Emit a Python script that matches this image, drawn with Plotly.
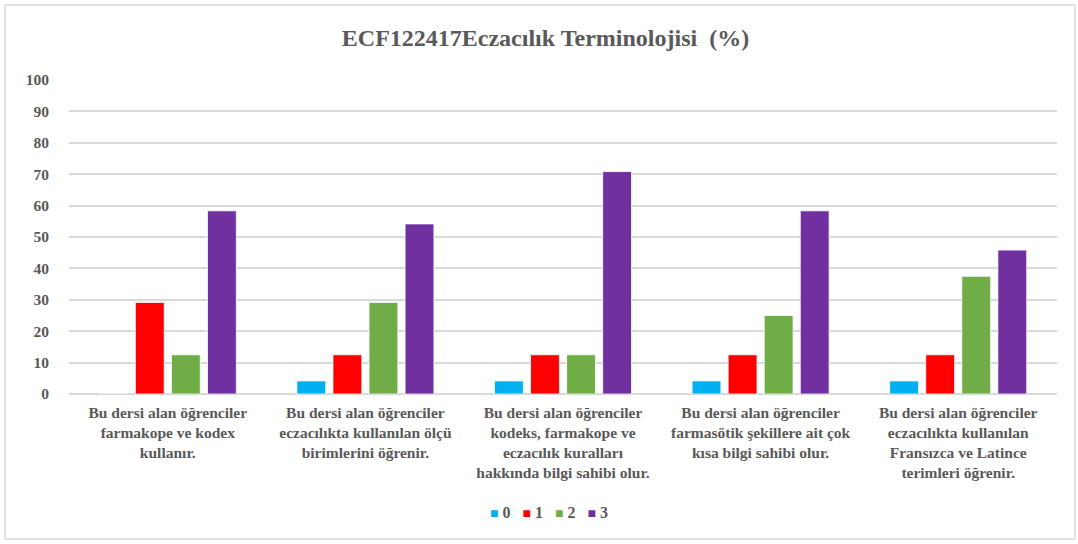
import plotly.graph_objects as go

categories = [
    "Bu dersi alan öğrenciler<br>farmakope ve kodex<br>kullanır.",
    "Bu dersi alan öğrenciler<br>eczacılıkta kullanılan ölçü<br>birimlerini öğrenir.",
    "Bu dersi alan öğrenciler<br>kodeks, farmakope ve<br>eczacılık kuralları<br>hakkında bilgi sahibi olur.",
    "Bu dersi alan öğrenciler<br>farmasötik şekillere ait çok<br>kısa bilgi sahibi olur.",
    "Bu dersi alan öğrenciler<br>eczacılıkta kullanılan<br>Fransızca ve Latince<br>terimleri öğrenir.",
]
series_names = ["0", "1", "2", "3"]
values_0 = [0, 4.17, 4.17, 4.17, 4.17]
values_1 = [29.17, 12.5, 12.5, 12.5, 12.5]
values_2 = [12.5, 29.17, 12.5, 25.0, 37.5]
values_3 = [58.33, 54.17, 70.83, 58.33, 45.83]
colors = ["#00B0F0", "#FF0000", "#70AD47", "#7030A0"]

FONT = "'Liberation Serif', 'Times New Roman', Times, serif"
GRAY = "#595959"

fig = go.Figure()
for name, vals, col in zip(series_names, [values_0, values_1, values_2, values_3], colors):
    fig.add_trace(go.Bar(
        x=categories, y=vals, name=name, showlegend=False,
        marker=dict(color=col, line=dict(color="white", width=0.8)),
    ))

# compact legend (Excel style) built from the series names and colours
legend_text = "&nbsp;&nbsp;&nbsp;".join(
    f'<span style="color:{c};font-size:14px">■</span>&nbsp;{n}'
    for n, c in zip(series_names, colors)
)

fig.update_layout(
    width=1078, height=544,
    margin=dict(l=69, r=21, t=80, b=150),
    paper_bgcolor="white", plot_bgcolor="white",
    barmode="group", bargap=0.27, bargroupgap=0.2,
    title=dict(
        text="<b>ECF122417Eczacılık Terminolojisi  (%)</b>",
        x=0.506, xanchor="center", y=0.93, yanchor="middle",
        font=dict(family=FONT, size=24, color=GRAY),
    ),
    font=dict(family=FONT, color=GRAY),
    xaxis=dict(
        showgrid=False, showline=False, automargin=False,
        ticks="outside", ticklen=4, tickcolor="rgba(0,0,0,0)",
        tickfont=dict(family=FONT, size=15.5, color=GRAY, weight="bold"),
        tickangle=0,
    ),
    yaxis=dict(
        range=[0, 100], dtick=10, showgrid=True, gridcolor="#D9D9D9", gridwidth=1.5,
        zeroline=True, zerolinecolor="#D9D9D9", zerolinewidth=1.5, automargin=False,
        tickfont=dict(family=FONT, size=15.5, color=GRAY, weight="bold"),
        ticks="", ticklabelstandoff=19,
    ),
    annotations=[dict(
        text=f"<b>{legend_text}</b>", xref="paper", yref="paper",
        x=0.486, y=-0.376, xanchor="center", yanchor="middle", showarrow=False,
        font=dict(family=FONT, size=16, color=GRAY),
    )],
    shapes=[dict(
        type="rect", xref="paper", yref="paper",
        x0=(5 - 69) / 988, x1=(1075 - 69) / 988,
        y0=(394 - 539) / 314, y1=(394 - 5) / 314,
        line=dict(color="#D9D9D9", width=1.5), fillcolor="rgba(0,0,0,0)",
        layer="below",
    )],
)

fig.write_html("out.html", config={"displayModeBar": False},
               post_script="document.body.style.margin='0px';")
